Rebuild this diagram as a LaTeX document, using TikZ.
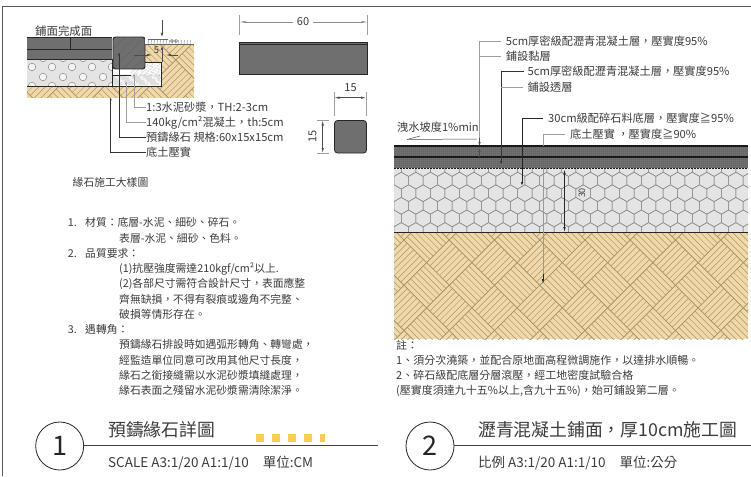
\documentclass[tikz,border=0pt]{standalone}
\usepackage{fontspec}
\setmainfont{Noto Sans CJK TC}
\usetikzlibrary{arrows.meta}
\definecolor{soil}{HTML}{F0D8A8}
\definecolor{soilline}{HTML}{A8966E}
\definecolor{grav}{HTML}{E4E4E4}
\definecolor{gravline}{HTML}{8C8C8C}
\definecolor{asph}{HTML}{707070}
\definecolor{stone}{HTML}{6F6F6F}
\definecolor{tx}{HTML}{3C3C3C}
\definecolor{lead}{HTML}{9E9E9E}
\definecolor{ydash}{HTML}{F8CC55}
\tikzset{
 lab/.style={anchor=west,inner sep=0pt,text=tx,font=\fontsize{11.2}{13}\selectfont},
 leadline/.style={draw=lead,line width=.6pt},
 darklead/.style={draw=black!80,line width=.8pt},
 arrowtip/.style={-{Latex[length=4pt,width=2.6pt]}},
 dimline/.style={draw=black!70,line width=.6pt,{Latex[length=5pt,width=2.4pt]}-{Latex[length=5pt,width=2.4pt]}},
 numeral/.style={inner sep=0pt,text=tx,font=\fontsize{11}{13}\selectfont},
 bubble/.style={circle,draw=black!85,line width=.8pt,minimum size=48pt,inner sep=0pt,font=\fontsize{27}{30}\selectfont,text=black!85},
 titletext/.style={lab,font=\fontsize{17.8}{20}\selectfont},
 subtext/.style={lab,font=\fontsize{13.5}{16}\selectfont},
}
\newcommand{\basket}[6]{% x0,y0,x1,y1,origin x,origin y
 \begin{scope}
 \clip (#1,#2) rectangle (#3,#4);
 \fill[soil] (#1,#2) rectangle (#3,#4);
 \begin{scope}[shift={(#5,#6)},rotate=45]
 \foreach \i in {-10,...,10}{\foreach \j in {-10,...,10}{
   \pgfmathsetmacro{\bpx}{#5+(\i*32+16)*.7071+(\j*32+16)*.7071}
   \pgfmathsetmacro{\bpy}{#6-(\i*32+16)*.7071+(\j*32+16)*.7071}
   \pgfmathtruncatemacro{\keepcell}{(\bpx>#1-24)*(\bpx<#3+24)*(\bpy>#2-24)*(\bpy<#4+24)}
   \ifnum\keepcell=1
   \pgfmathtruncatemacro{\parityval}{mod(abs(\i+\j),2)}
   \begin{scope}[shift={(\i*32,\j*32)}]
   \ifnum\parityval=0
     \draw[soilline,line width=.5pt] foreach \k in {0,4.57,...,28}{(\k,0)--(\k,32)} (0,0) rectangle (32,32);
   \else
     \draw[soilline,line width=.5pt] foreach \k in {0,4.57,...,28}{(0,\k)--(32,\k)} (0,0) rectangle (32,32);
   \fi
   \end{scope}
   \fi
 }}
 \end{scope}
 \end{scope}}
\newcommand{\hexes}[7]{% x0,y0,x1,y1,r,fill,line
 \begin{scope}
 \clip (#1,#2) rectangle (#3,#4);
 \fill[#6] (#1,#2) rectangle (#3,#4);
 \pgfmathsetmacro{\hdx}{#5*1.732}
 \pgfmathsetmacro{\hdy}{#5*1.5}
 \pgfmathtruncatemacro{\hnx}{(#3-#1)/\hdx+1}
 \pgfmathtruncatemacro{\hny}{(#4-#2)/\hdy+1}
 \foreach \j in {0,...,\hny}{\foreach \i in {0,...,\hnx}{
   \pgfmathsetmacro{\hcx}{#1+\i*\hdx+mod(\j,2)*\hdx/2}
   \pgfmathsetmacro{\hcy}{#2+\j*\hdy}
   \draw[#7,line width=.5pt] (\hcx,\hcy-#5) -- ++(30:#5) -- ++(90:#5) -- ++(150:#5) -- ++(210:#5) -- ++(270:#5) -- cycle;
 }}
 \end{scope}}
\begin{document}
\begin{tikzpicture}[x=1pt,y=-1pt]
\useasboundingbox (0,0) rectangle (751,476);
\fill[white] (0,0) rectangle (751,476);
% frame
\draw[black!65,line width=1.2pt] (2.3,476) -- (2.3,6.6) -- (751,6.6);

% ---------- detail 1 ----------
\basket{27}{86}{194}{98}{40}{60}
\basket{144}{45}{194}{86}{40}{60}
\begin{scope}
\clip (27,59) rectangle (113,86);
\fill[grav] (27,59) rectangle (113,86);
\foreach \yy/\off in {58/43,67/32,77/43,86/32}{\foreach \c in {-1,...,4}{
  \draw[gravline,fill=grav!40,line width=.5pt] ({\off+\c*20},\yy) circle (3.8);}}
\end{scope}
\fill[stone] (27,37) rectangle (112,59);
\draw[black!85,line width=.8pt] (27,37) -- (112,37) (27,49.5) -- (112,49.5) (27,59) -- (112,59) (70,37) -- (70,49.5);
% mortar box
\fill[white] (113,69) rectangle (161,86);
\fill[white] (145,62) rectangle (161,86);
\fill[black!55] foreach \i in {1,...,220}{({113+mod(\i*37,48)},{75+mod(\i*23,11)}) circle (.3)};
\fill[black!55] foreach \i in {1,...,50}{({146+mod(\i*7,15)},{62+mod(\i*11,14)}) circle (.3)};
\fill[black!55] foreach \i in {1,...,25}{({131+mod(\i*7,15)},{69+mod(\i*11,7)}) circle (.3)};
\draw[black!85,line width=.8pt] (27,86) -- (161.5,86) -- (161.5,62) -- (145,62);
\draw[black!85,line width=.7pt] (113,75) -- (131,75);
\draw[black!85,line width=.8pt] (112.5,59) -- (112.5,86);
% curb stone section
\begin{scope}
\clip[rounded corners=2.5pt] (113,37) rectangle (145,69);
\fill[stone] (113,37) rectangle (145,69);
\foreach \k in {-30,-20,...,60}{\draw[black!60,line width=.5pt] (113+\k,69) -- (113+\k+32,37);}
\end{scope}
\draw[black!85,line width=.9pt,rounded corners=2.5pt] (113,37) rectangle (145,69);
% grass
\fill[white] (145,37) rectangle (194,45);
\draw[black!60,line width=.6pt] (145,44) -- (194,44);
\foreach \k in {148,151,...,192}{\draw[black!50,line width=.4pt] (\k,44) -- (\k+.5,40);}
\draw[black!60,line width=.6pt] (148,39.5) -- (168,39.5);
\draw[black!60,line width=.5pt] (172,41) circle (1.6) (176,41) circle (1.6);
\node[lab,font=\fontsize{11.4}{13}\selectfont] (pave) at (35,31) {鋪面完成面};
% 5 dimension
\coordinate (d5a) at (162,20); \coordinate (d5b) at (162,37);
\draw[black!70,line width=.5pt,arrowtip] (d5a) -- (d5b);
\coordinate (d5c) at (162,62); \coordinate (d5d) at (162,46);
\draw[black!70,line width=.5pt,arrowtip] (d5c) -- (d5d);
\draw[black!70,line width=.6pt,-{Latex[length=5pt,width=2.4pt]}] (134,55) -- (152,55);
\draw[black!70,line width=.6pt,-{Latex[length=5pt,width=2.4pt]}] (178,55) -- (166,55);
\node[numeral,font=\fontsize{9.5}{11}\selectfont] (five) at (156.5,50) {5};
% leaders
\node[lab] (l1) at (146,107) {1:3水泥砂漿，TH:2-3cm};
\node[lab] (l2) at (146,122.5) {140kg/cm²混凝土，th:5cm};
\node[lab] (l3) at (146,137.5) {預鑄緣石 規格:60x15x15cm};
\node[lab] (l4) at (146,152.5) {底土壓實};
\coordinate (a1) at (134,73); \coordinate (a2) at (126,81); \coordinate (a3) at (119,52); \coordinate (a4) at (110.7,97);
\draw[leadline,-{Latex[length=3.5pt,width=2.2pt]}] (l1.west) -- (a1|-l1.west) -- (a1);
\draw[leadline,-{Latex[length=3.5pt,width=2.2pt]}] (l2.west) -- (a2|-l2.west) -- (a2);
\draw[darklead,-{Latex[length=3.5pt,width=2.2pt]}] (l3.west) -- (a3|-l3.west) -- (a3);
\draw[darklead,-{Latex[length=3.5pt,width=2.2pt]}] (l4.west) -- (a4|-l4.west) -- (a4);
% elevation 60
\draw[lead,line width=.5pt] (239.5,15) -- (239.5,35) (367.5,15) -- (367.5,35);
\node[numeral,inner sep=4pt] (d60) at (303,22) {60};
\coordinate (e60a) at (239.5,22); \coordinate (e60b) at (367.5,22);
\draw[black!45,line width=.5pt,{Latex[length=6pt,width=2.2pt]}-] (e60a) -- (d60);
\draw[black!45,line width=.5pt,-{Latex[length=6pt,width=2.2pt]}] (d60) -- (e60b);
\fill[stone] (239.5,42) rectangle (367.5,74);
\draw[black!85,line width=.8pt] (239.5,42) rectangle (367.5,74);
\draw[black!85,line width=.6pt] (239.5,44.5) -- (367.5,44.5);
% section 15
\draw[lead,line width=.5pt] (334.5,92) -- (334.5,116) (366,92) -- (366,116);
\draw[dimline] (334.5,97.7) -- (366,97.7);
\node[numeral] (t15a) at (350.5,87.5) {15};
\draw[lead,line width=.5pt] (317,120.5) -- (329,120.5) (317,153) -- (329,153);
\draw[dimline] (322.7,120.5) -- (322.7,153);
\node[numeral,rotate=90] (t15b) at (312.5,136) {15};
\fill[stone,rounded corners=3pt] (334.5,120.5) rectangle (366.5,153);
\draw[black!85,line width=.8pt,rounded corners=3pt] (334.5,120.5) rectangle (366.5,153);
% text left
\begin{scope}[every node/.style={lab,font=\fontsize{10.8}{13}\selectfont}]
\node (n0) at (72.5,182.5) {緣石施工大樣圖};
\node (n1) at (67.7,222.7) {1.};\node (n1b) at (85,222.7) {材質：底層-水泥、細砂、碎石。};
\node (n2) at (119,238.7) {表層-水泥、細砂、色料。};
\node (n3) at (67.7,253.5) {2.};\node (n3b) at (85,253.5) {品質要求：};
\node (n4) at (119,269) {(1)抗壓強度需達210kgf/cm²以上.};
\node (n5) at (119,284.3) {(2)各部尺寸需符合設計尺寸，表面應整};
\node (n6) at (119,299.3) {齊無缺損，不得有裂痕或邊角不完整、};
\node (n7) at (119,314.3) {破損等情形存在。};
\node (n8) at (67.7,329.3) {3.};\node (n8b) at (85,329.3) {遇轉角：};
\node (n9) at (119,344.5) {預鑄緣石排設時如遇弧形轉角、轉彎處，};
\node (n10) at (119,360) {經監造單位同意可改用其他尺寸長度，};
\node (n11) at (119,375) {緣石之銜接縫需以水泥砂漿填縫處理，};
\node (n12) at (119,390) {緣石表面之殘留水泥砂漿需清除潔淨。};
\end{scope}

% ---------- section 2 ----------
\basket{394}{232}{748}{339}{404}{240}
\hexes{394}{168}{748}{232}{8.4}{grav}{gravline}
\fill[asph] (394,146) rectangle (748,168);
\foreach \y in {147,149,...,167}{\draw[black!62,line width=.9pt,dash pattern=on .9pt off 1.1pt] (394.5,\y) -- (748,\y);}
\draw[black!90,line width=1.4pt] (394,146) -- (748,146);
\draw[black!90,line width=1.2pt] (394,157) -- (748,157);
\draw[black!90,line width=.9pt,dash pattern=on 2pt off 1pt] (394,168) -- (748,168);
\draw[black!85,line width=1pt] (394,232) -- (748,232);
% labels
\node[lab] (r1) at (505.7,41) {5cm厚密級配瀝青混凝土層，壓實度95\%};
\node[lab] (r2) at (505.7,56) {鋪設黏層};
\node[lab] (r3) at (527.5,71.5) {5cm厚密級配瀝青混凝土層，壓實度95\%};
\node[lab] (r4) at (527.5,87) {鋪設透層};
\node[lab] (r5) at (548,118) {30cm級配碎石料底層，壓實度≧95\%};
\node[lab] (r6) at (570,134) {底土壓實 ，壓實度≧90\%};
\node[lab] (slope) at (397,127) {洩水坡度1\%min};
\coordinate (ra) at (479.5,138); \coordinate (rb) at (501,165); \coordinate (rc) at (522,186); \coordinate (rd) at (543,284);
\draw[leadline] ([xshift=-5pt]r1.west) -- (ra|-r1.west) -- (ra);
\draw[leadline] ([xshift=-5pt]r2.west) -- (ra|-r2.west);
\draw[black!70,line width=.5pt,-{Latex[length=4pt,width=2.4pt]}] (ra) -- (479.5,146);
\draw[black!70,line width=.5pt,-{Latex[length=4pt,width=2.4pt]}] (479.5,157) -- (479.5,148);
\draw[darklead,-{Latex[length=4pt,width=2.4pt]}] ([xshift=-4pt]r3.west) -- (rb|-r3.west) -- (rb);
\draw[leadline] ([xshift=-5pt]r4.west) -- (rb|-r4.west);
\draw[black!85,line width=.7pt,-{Latex[length=4pt,width=2.4pt]}] ([xshift=-5pt]r5.west) -- (rc|-r5.west) -- (rc);
\draw[leadline] ([xshift=-5pt]r6.west) -- (rd|-r6.west) -- (543,146);
\draw[black!40,line width=.5pt] (543,168) -- (543,274);
\draw[black!85,line width=.6pt,-{Latex[length=5pt,width=2.4pt]}] (543,274) -- (rd);
\draw[black!85,line width=.6pt,{Latex[length=5pt,width=2.4pt]}-{Latex[length=5pt,width=2.4pt]}] (564.5,169.5) -- (564.5,232);
\node[numeral,rotate=90,font=\fontsize{9}{11}\selectfont] (t30) at (582,193) {30};
\draw[black!70,line width=.5pt] (407,139.5) -- (477,139) (407,139.5) -- (420,136);
% notes
\begin{scope}[every node/.style={lab,font=\fontsize{11}{13}\selectfont}]
\node (m0) at (396,345) {註：};
\node (m1) at (396,360) {1、須分次澆築，並配合原地面高程微調施作，以達排水順暢。};
\node (m2) at (396,375.5) {2、碎石級配底層分層滾壓，經工地密度試驗合格};
\node (m3) at (396,391) {(壓實度須達九十五\%以上,含九十五\%)，始可鋪設第二層。};
\end{scope}

% ---------- title blocks ----------
\node[bubble] (c1) at (59.7,446) {1};
\draw[black!75,line width=1pt] (c1.east|-0,445.7) -- (378,445.7);
\node[titletext] (t1) at (108,430) {預鑄緣石詳圖};
\node[subtext] (s1) at (108,462.7) {SCALE A3:1/20 A1:1/10\hspace{14pt}單位:CM};
\foreach \x in {256,272,...,304}{\fill[ydash] (\x,434) rectangle +(8,8);}
\fill[ydash] (320,434) rectangle +(5,8);
\node[bubble] (c2) at (430,446) {2};
\draw[black!75,line width=1pt] (c2.east|-0,445.7) -- (751,445.7);
\node[titletext] (t2) at (478,430) {瀝青混凝土鋪面，厚10cm施工圖};
\node[subtext] (s2) at (478,462.7) {比例 A3:1/20 A1:1/10\hspace{14pt}單位:公分};
\end{tikzpicture}
\end{document}
